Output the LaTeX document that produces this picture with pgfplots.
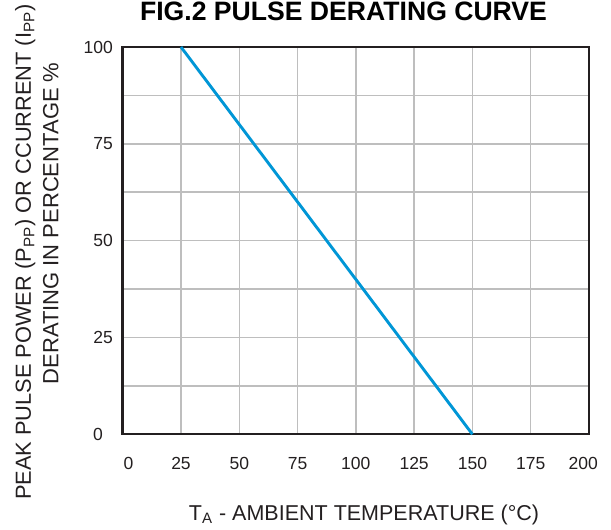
\documentclass[border=0pt]{standalone}
\usepackage{fontspec}
\setmainfont{Liberation Sans}
\usepackage{pgfplots}
\pgfplotsset{compat=1.18}
\definecolor{lineblue}{RGB}{0,150,214}
\definecolor{gridgray}{RGB}{190,190,190}
\definecolor{axisdark}{RGB}{35,31,32}
\definecolor{textdark}{RGB}{35,31,32}

\begin{document}
\begin{tikzpicture}
\begin{axis}[
  at={(0,0)}, anchor=south west,
  width=233.15pt, height=193.65pt, scale only axis,
  clip=false,
  xmin=0, xmax=200, ymin=0, ymax=100,
  xtick={0,25,...,200},
  xticklabels={\hspace*{5.8pt}0,25,50,75,100,125,150,175,200\hspace*{5.7pt}},
  ytick={0,25,50,75,100},
  yticklabels={0\hspace*{5pt},25,50,75,100},
  minor ytick={12.5,37.5,62.5,87.5},
  grid=both,
  major grid style={gridgray, line width=0.75pt},
  minor grid style={gridgray, line width=0.75pt},
  major tick length=0pt, minor tick length=0pt,
  axis line style={axisdark, line width=1.2pt},
  tick label style={font=\fontsize{8.75}{10}\selectfont, text=textdark},
  xticklabel style={anchor=center, yshift=-14.5pt, inner sep=0pt},
  yticklabel style={anchor=east, xshift=-4.7pt, inner sep=0pt},
  xlabel={T\textsubscript{A} - AMBIENT TEMPERATURE (°C)},
  xlabel style={at={(axis description cs:0.5175,-0.2231)}, anchor=base, font=\fontsize{10.75}{12}\selectfont, inner sep=0pt, text=textdark},
  ylabel={DERATING IN PERCENTAGE \%},
  ylabel style={at={(axis description cs:-0.1377,0.5443)}, anchor=base, rotate=0, font=\fontsize{11}{12}\selectfont, inner sep=0pt, text=textdark},
]
\addplot[lineblue, line width=1.45pt] coordinates {(25,100) (150,0)};
\node[rotate=90, anchor=base, font=\fontsize{10.9}{12}\selectfont, inner sep=0pt, text=textdark]
  at (axis description cs:-0.1967,0.4707)
  {PEAK PULSE POWER (P\textsubscript{PP}) OR CCURRENT (I\textsubscript{PP})};
\node[anchor=base, font=\fontsize{13.3}{15}\selectfont\bfseries, inner sep=0pt, text=black]
  at (axis description cs:0.4735,1.0692) {FIG.2 PULSE DERATING CURVE};
\end{axis}
\pgfresetboundingbox
\path[use as bounding box] (-61.35pt,-47.85pt) rectangle (244.15pt,217.15pt);
\end{tikzpicture}
\end{document}
